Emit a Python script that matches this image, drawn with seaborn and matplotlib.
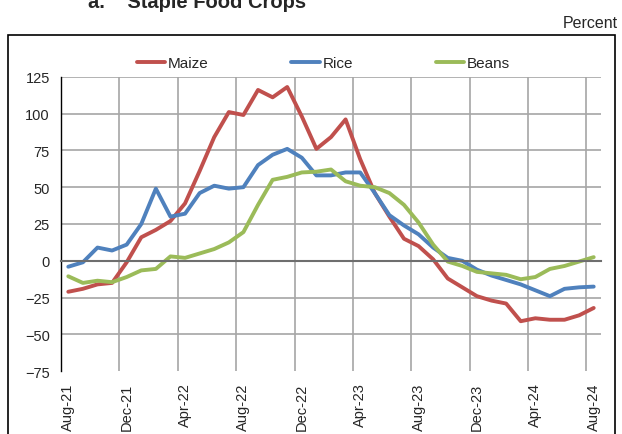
import matplotlib
matplotlib.use('Agg')
import matplotlib.pyplot as plt
from matplotlib.patches import Rectangle
import seaborn as sns
import pandas as pd

# months Aug-21 .. Aug-24
months = pd.date_range('2021-08-01', '2024-08-01', freq='MS')
tick_labels = [m.strftime('%b-%y') for m in months]

maize = [-21, -19, -16, -15, -1, 16, 21, 27, 39, 61, 84, 101, 99, 116, 111, 118, 98, 76, 84, 96,
         69, 46, 30, 15, 10, 1, -12, -18, -24, -27, -29, -41, -39, -40, -40, -37, -32]
rice = [-4, -1, 9, 7, 11, 25, 49, 30, 32, 46, 51, 49, 50, 65, 72, 76, 70, 58, 58, 60,
        60, 46, 31, 24, 18, 9, 2, 0, -6, -10, -13, -16, -20, -24, -19, -18, -17.5]
beans = [-10.5, -15, -13.5, -14.5, -11, -6.5, -5.5, 3, 2, 5, 8, 12.5, 19.5, 38, 55, 57, 60, 60.5, 62, 54,
         51, 50, 46, 38, 26, 11, -0.5, -3.5, -7.5, -8.5, -9.5, -12.5, -11, -5.5, -3.5, -0.5, 2.5]

crops = ['Maize', 'Rice', 'Beans']
colors = ['#C0504D', '#4F81BD', '#9BBB59']

idx = list(range(len(months)))
df = pd.DataFrame({
    'x': idx * 3,
    'value': maize + rice + beans,
    'crop': [c for c in crops for _ in idx],
})

sns.set_style('white')
plt.rcParams['font.family'] = ['Liberation Sans', 'DejaVu Sans']

fig = plt.figure(figsize=(6.22, 4.35), dpi=100)
ax = fig.add_axes([61 / 622, 1 - 372.3 / 435, 540 / 622, 294.6 / 435])

sns.lineplot(data=df, x='x', y='value', hue='crop', hue_order=crops,
             palette=colors, linewidth=2.8, ax=ax, legend=True)

ax.set_xlim(-0.5, 36.5)
ax.set_ylim(-75, 125)
ax.set_xlabel('')
ax.set_ylabel('')

# horizontal grid
ax.set_yticks(range(-75, 126, 25))
ax.tick_params(axis='y', labelsize=10.5, length=5, width=1, color='black', direction='out', pad=3)
for v in range(-50, 126, 25):
    if v != 0:
        ax.axhline(v, color='#a6a6a6', lw=1.2, zorder=0)

# category boundaries as vertical grid, x axis crosses at zero
ax.set_xticks([b - 0.5 for b in range(4, 37, 4)])
ax.set_xticklabels([])
ax.tick_params(axis='x', length=6, width=1, color='#555555', direction='inout')
ax.xaxis.grid(True, color='#a6a6a6', lw=1.2)
ax.set_axisbelow(True)
ax.spines['bottom'].set_position(('data', 0))
ax.spines['bottom'].set_color('#6e6e6e')
ax.spines['bottom'].set_linewidth(1.5)
ax.spines['top'].set_visible(False)
ax.spines['right'].set_visible(False)
ax.spines['left'].set_color('black')
ax.spines['left'].set_linewidth(1.0)

# month labels at the bottom of the plot
sec = ax.secondary_xaxis(0.0)
sec.set_xticks(idx[::4])
sec.set_xticklabels(tick_labels[::4], rotation=90, fontsize=10.5)
sec.tick_params(length=0, pad=8)
sec.spines['bottom'].set_visible(False)

# legend above the plot
handles, labels = ax.get_legend_handles_labels()
ax.legend(handles, labels, loc='center', bbox_to_anchor=(323.5 / 622, 1 - 64 / 435),
          bbox_transform=fig.transFigure, ncol=3, frameon=False, fontsize=11,
          handlelength=1.85, handletextpad=0.2, columnspacing=5.4)
for line in ax.get_legend().get_lines():
    line.set_linewidth(2.8)

# outer frame, title, unit
fig.patches.append(Rectangle((8 / 622, -0.05), 607 / 622, 1 - 36 / 435 + 0.05,
                             transform=fig.transFigure, fill=False, edgecolor='black', lw=1.2))
fig.text(88 / 622, 1 - 8.5 / 435, 'a.    Staple Food Crops', fontsize=14.5,
         fontweight='bold', ha='left', va='baseline')
fig.text(618 / 622, 1 - 28 / 435, 'Percent', fontsize=11.5, ha='right', va='baseline')

fig.savefig('out.png', dpi=100)
